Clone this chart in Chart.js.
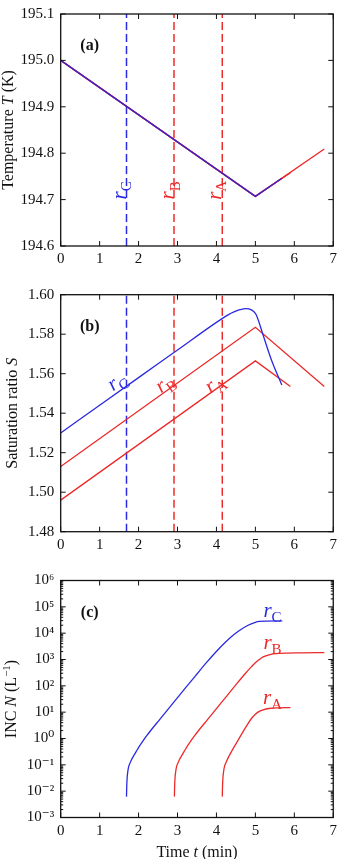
<!DOCTYPE html>
<html>
<head>
<meta charset="utf-8">
<script src="https://cdn.jsdelivr.net/npm/chart.js@4.4.1/dist/chart.umd.min.js"></script>
<style>
    html, body { margin: 0; padding: 0; background: #fff; }
    #wrap { position: relative; width: 343px; height: 859px; }
    canvas { position: absolute; left: 0; }
</style>
</head>
<body>
<div id="wrap">
    <canvas id="chartA" width="343" height="280" style="top:0px"></canvas>
    <canvas id="chartB" width="343" height="270" style="top:280px"></canvas>
    <canvas id="chartC" width="343" height="309" style="top:550px"></canvas>
</div>
<script>
// ---- data ----
const TIME_TICKS = [0, 1, 2, 3, 4, 5, 6, 7];
const ONSET_TIMES = [1.69, 2.91, 4.15];          // rC, rB, rA dashed lines

// (a) temperature
const TEMP_T_C = [0, 5.0, 5.68];
const TEMP_C = [195.0, 194.707, 194.746];
const TEMP_T_B = [0, 5.0, 6.77];
const TEMP_B = [195.0, 194.707, 194.809];
const TEMP_T_A = [0, 5.0, 5.9];
const TEMP_A = [195.0, 194.707, 194.758];
const TEMP_TICKS = [194.6, 194.7, 194.8, 194.9, 195.0, 195.1];

// (b) saturation ratio
const SAT_T_C = [0, 1, 2, 3, 4, 4.3, 4.45, 4.6, 4.75, 4.9, 5.0, 5.05, 5.2, 5.43, 5.68];
const SAT_C = [1.530, 1.544, 1.558, 1.572, 1.586, 1.5898, 1.5913, 1.5924, 1.5930, 1.5923, 1.5905, 1.5885, 1.5795, 1.566, 1.5543];
const SAT_T_B = [0, 5.0, 6.77];
const SAT_B = [1.513, 1.5835, 1.5535];
const SAT_T_A = [0, 5.0, 5.9];
const SAT_A = [1.496, 1.5665, 1.5535];
const SAT_TICKS = [1.48, 1.50, 1.52, 1.54, 1.56, 1.58, 1.60];

// (c) INC
const INC_T_C = [1.69, 1.695, 1.705, 1.723, 1.749, 1.779, 1.818, 1.869, 1.945, 2.022, 2.114, 2.20, 2.54, 2.9, 3.22, 3.5, 3.73, 4.07, 4.33, 4.58, 4.8, 5.0, 5.1, 5.3, 5.69];
const INC_C = [6.2e-3, 1.35e-2, 2.98e-2, 5.48e-2, 8.87e-2, 0.115, 0.157, 0.213, 0.330, 0.511, 0.813, 1.23, 5.25, 23.4, 89, 282, 724, 2630, 6310, 1.23e4, 1.95e4, 2.57e4, 2.79e4, 2.88e4, 2.92e4];
const INC_T_B = [2.92, 2.925, 2.935, 2.953, 2.979, 3.009, 3.048, 3.099, 3.175, 3.252, 3.344, 3.43, 3.77, 4.13, 4.45, 4.73, 4.9, 5.0, 5.1, 5.2, 5.35, 5.6, 6.2, 6.77];
const INC_B = [6.2e-3, 1.35e-2, 2.98e-2, 5.48e-2, 8.87e-2, 0.115, 0.157, 0.213, 0.330, 0.511, 0.813, 1.23, 5.25, 23.4, 89, 282, 537, 759, 1000, 1260, 1510, 1700, 1800, 1820];
const INC_T_A = [4.15, 4.155, 4.165, 4.183, 4.209, 4.24, 4.28, 4.33, 4.41, 4.55, 4.75, 4.9, 5.0, 5.1, 5.2, 5.35, 5.55, 5.9];
const INC_A = [6.2e-3, 1.35e-2, 2.98e-2, 5.48e-2, 8.87e-2, 0.117, 0.158, 0.224, 0.372, 0.83, 2.63, 5.75, 8.3, 10.7, 12.3, 13.8, 14.6, 15.0];
const INC_TICKS = [1e-3, 1e-2, 1e-1, 1e0, 1e1, 1e2, 1e3, 1e4, 1e5, 1e6];

// ---- styling ----
const SERIF = '"Liberation Serif", "DejaVu Serif", serif';
const BLUE = '#2a2ae0';
const RED = '#ec2a2a';
const INK = '#111';
const SUP = { '-': '\u207b', '0': '\u2070', '1': '\u00b9', '2': '\u00b2', '3': '\u00b3', '4': '\u2074', '5': '\u2075', '6': '\u2076', '7': '\u2077', '8': '\u2078', '9': '\u2079' };

// draws mixed italic / sub / sup text centred on (x, y)
function drawRich(ctx, parts, x, y, angle, size, color) {
    ctx.save();
    ctx.translate(x, y);
    ctx.rotate(angle || 0);
    ctx.fillStyle = color;
    ctx.textBaseline = 'alphabetic';
    ctx.textAlign = 'left';
    const fontOf = p => {
        const s = p.sub || p.sup ? Math.round(size * 0.7) : (p.size || size);
        return (p.i ? 'italic ' : '') + (p.b ? 'bold ' : '') + s + 'px ' + SERIF;
    };
    let w = 0;
    parts.forEach(p => { ctx.font = fontOf(p); p._w = ctx.measureText(p.t).width; w += p._w; });
    let cx = -w / 2;
    const base = size * 0.33;
    parts.forEach(p => {
        ctx.font = fontOf(p);
        const dy = p.sub ? size * 0.25 : (p.sup ? -size * 0.42 : 0);
        ctx.fillText(p.t, cx, base + dy);
        cx += p._w;
    });
    ctx.restore();
}

const rLabel = n => [{ t: 'r', i: true }, { t: n, sub: true }];

// frame, inward ticks, titles and annotations
const decor = {
    id: 'decor',
    afterDraw(chart, args, o) {
        const { ctx, chartArea: a } = chart;
        const xs = chart.scales.x, ys = chart.scales.y;
        ctx.save();
        ctx.strokeStyle = INK;
        ctx.lineWidth = 1;
        const seg = (x1, y1, x2, y2) => { ctx.beginPath(); ctx.moveTo(x1, y1); ctx.lineTo(x2, y2); ctx.stroke(); };
        xs.ticks.forEach(t => {
            const px = xs.getPixelForValue(t.value);
            seg(px, a.bottom, px, a.bottom - 5);
            seg(px, a.top, px, a.top + 5);
        });
        ys.ticks.forEach(t => {
            const py = ys.getPixelForValue(t.value);
            seg(a.left, py, a.left + 5, py);
            seg(a.right, py, a.right - 5, py);
        });
        if (o.minorLog) {
            for (let d = -3; d < 6; d++) {
                for (let k = 2; k < 10; k++) {
                    const py = ys.getPixelForValue(k * Math.pow(10, d));
                    seg(a.left, py, a.left + 2.5, py);
                    seg(a.right, py, a.right - 2.5, py);
                }
            }
        }
        ctx.lineWidth = 1.3;
        ctx.strokeRect(a.left, a.top, a.right - a.left, a.bottom - a.top);

        drawRich(ctx, [{ t: o.letter, b: true }], a.left + 29, a.top + 31, 0, 16, INK);
        drawRich(ctx, o.yTitle, o.yTitleX, (a.top + a.bottom) / 2, -Math.PI / 2, 16, INK);
        if (o.xTitle) drawRich(ctx, o.xTitle, (a.left + a.right) / 2, o.xTitleY, 0, 16, INK);

        let ang = o.labelAngle || 0;
        if (o.slopeFrom) {
            const [p, q] = o.slopeFrom;
            ang = Math.atan2(ys.getPixelForValue(q[1]) - ys.getPixelForValue(p[1]),
                xs.getPixelForValue(q[0]) - xs.getPixelForValue(p[0]));
        }
        o.labels.forEach(l => {
            drawRich(ctx, rLabel(l.n), xs.getPixelForValue(l.x), ys.getPixelForValue(l.y), ang, 21, l.color);
        });
        ctx.restore();
    }
};

const line = (ts, vs, color, extra) => Object.assign({
    data: ts.map((t, i) => ({ x: t, y: vs[i] })),
    borderColor: color,
    borderWidth: 1.3,
    pointRadius: 0,
    fill: false,
    tension: 0
}, extra || {});

const dashed = (t, range, color) => ({
    data: [{ x: t, y: range[0] }, { x: t, y: range[1] }],
    borderColor: color,
    borderWidth: 1.5,
    borderDash: [8, 4],
    pointRadius: 0,
    fill: false
});

const tickFont = { family: SERIF, size: 15, lineHeight: 1 };

function xScale(height) {
    return {
        type: 'linear', min: 0, max: 7,
        afterBuildTicks: s => { s.ticks = TIME_TICKS.map(v => ({ value: v })); },
        afterFit: s => { s.height = height; },
        ticks: { font: tickFont, color: INK, padding: 6, maxRotation: 0, autoSkip: false, callback: v => String(v) },
        grid: { display: false, drawTicks: false },
        border: { display: false }
    };
}

function yScale(type, min, max, ticks, fmt) {
    return {
        type: type, min: min, max: max,
        afterBuildTicks: s => { s.ticks = ticks.map(v => ({ value: v })); },
        afterFit: s => { s.width = 60.7; },
        ticks: { font: tickFont, color: INK, padding: 6.5, autoSkip: false, callback: fmt },
        grid: { display: false, drawTicks: false },
        border: { display: false }
    };
}

function makeChart(id, datasets, yOpts, padTop, xHeight, decorOpts) {
    return new Chart(document.getElementById(id), {
        type: 'line',
        data: { datasets: datasets },
        options: {
            responsive: false,
            animation: false,
            devicePixelRatio: 1,
            layout: { padding: { top: padTop, right: 8, left: 0, bottom: 0 } },
            scales: { x: xScale(xHeight), y: yOpts },
            plugins: { legend: { display: false }, tooltip: { enabled: false }, decor: decorOpts }
        },
        plugins: [decor]
    });
}

// (a)
const tempRange = [TEMP_TICKS[0], TEMP_TICKS[TEMP_TICKS.length - 1]];
makeChart('chartA', [
    line(TEMP_T_C, TEMP_C, '#3b22c8'),
    line(TEMP_T_B, TEMP_B, RED),
    line(TEMP_T_A, TEMP_A, RED),
    dashed(ONSET_TIMES[0], tempRange, BLUE),
    dashed(ONSET_TIMES[1], tempRange, RED),
    dashed(ONSET_TIMES[2], tempRange, RED)
], yScale('linear', tempRange[0], tempRange[1], TEMP_TICKS, v => v.toFixed(1)), 8, 34, {
    letter: '(a)',
    yTitle: [{ t: 'Temperature ' }, { t: 'T', i: true }, { t: ' (K)' }],
    yTitleX: 8,
    labelAngle: -Math.PI / 2,
    labels: [
        { n: 'C', x: 1.5, y: 194.72, color: BLUE },
        { n: 'B', x: 2.74, y: 194.72, color: RED },
        { n: 'A', x: 3.93, y: 194.72, color: RED }
    ]
});

// (b)
const satRange = [SAT_TICKS[0], SAT_TICKS[SAT_TICKS.length - 1]];
makeChart('chartB', [
    line(SAT_T_C, SAT_C, BLUE, { cubicInterpolationMode: 'monotone' }),
    line(SAT_T_B, SAT_B, RED),
    line(SAT_T_A, SAT_A, RED),
    dashed(ONSET_TIMES[0], satRange, BLUE),
    dashed(ONSET_TIMES[1], satRange, RED),
    dashed(ONSET_TIMES[2], satRange, RED)
], yScale('linear', satRange[0], satRange[1], SAT_TICKS, v => v.toFixed(2)), 14.7, 18.3, {
    letter: '(b)',
    yTitle: [{ t: 'Saturation ratio ' }, { t: 'S', i: true }],
    yTitleX: 11.5,
    slopeFrom: [[SAT_T_B[0], SAT_B[0]], [SAT_T_B[1], SAT_B[1]]],
    labels: [
        { n: 'C', x: 1.43, y: 1.5565, color: BLUE },
        { n: 'B', x: 2.66, y: 1.5555, color: RED },
        { n: 'A', x: 3.94, y: 1.5555, color: RED }
    ]
});

// (c)
makeChart('chartC', [
    line(INC_T_C, INC_C, BLUE, { cubicInterpolationMode: 'monotone' }),
    line(INC_T_B, INC_B, RED, { cubicInterpolationMode: 'monotone' }),
    line(INC_T_A, INC_A, RED, { cubicInterpolationMode: 'monotone' })
], yScale('logarithmic', INC_TICKS[0], INC_TICKS[INC_TICKS.length - 1], INC_TICKS,
    v => '10' + String(Math.round(Math.log10(v))).split('').map(c => SUP[c]).join('')), 30.5, 41.5, {
    letter: '(c)',
    minorLog: true,
    yTitle: [{ t: 'INC ' }, { t: 'N', i: true }, { t: ' (L' }, { t: '\u22121', sup: true }, { t: ')' }],
    yTitleX: 11,
    xTitle: [{ t: 'Time ' }, { t: 't', i: true }, { t: ' (min)' }],
    xTitleY: 302,
    labels: [
        { n: 'C', x: 5.44, y: 7.8e4, color: BLUE },
        { n: 'B', x: 5.44, y: 4.5e3, color: RED },
        { n: 'A', x: 5.44, y: 37, color: RED }
    ]
});
</script>
</body>
</html>
